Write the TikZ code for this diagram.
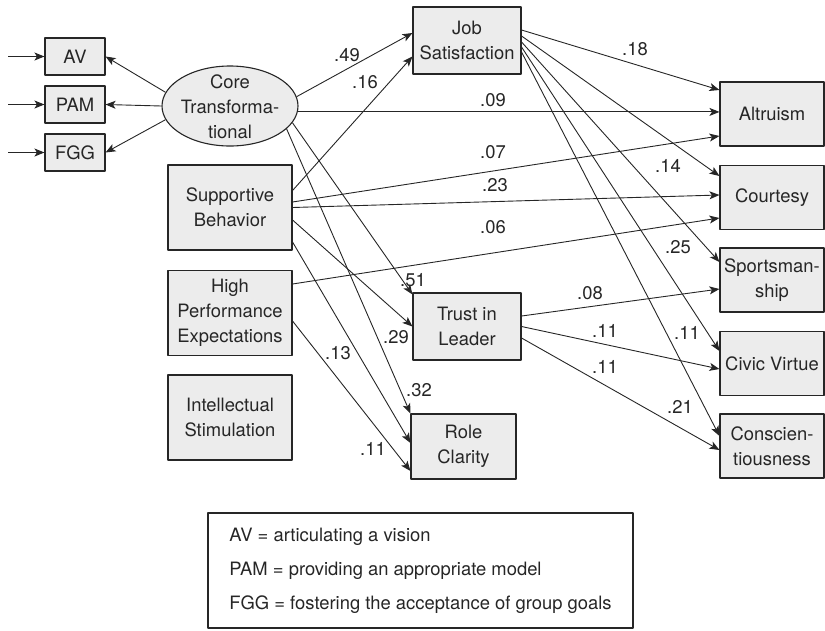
\documentclass[tikz,border=0pt]{standalone}
\usepackage{fontspec}
\setmainfont{TeX Gyre Heros}
\usetikzlibrary{arrows.meta,shapes.geometric}
\definecolor{boxgray}{HTML}{ECECEC}
\definecolor{inkgray}{HTML}{262626}
\tikzset{
  var/.style={draw=inkgray,fill=boxgray,line width=1.1pt,align=center,inner sep=0pt},
  wt/.style={inner sep=0pt},
}
\begin{document}
\begin{tikzpicture}[x=1pt,y=-1pt,line join=bevel,color=inkgray,line width=0.9pt,
    font=\fontsize{18.4}{25}\selectfont,>={Stealth[length=10pt,width=8pt,inset=2.5pt]}]
	\useasboundingbox (0,0) rectangle (825,630) ;
	\foreach \n/\t/\y in {av/AV/56.5,pam/PAM/104.5,fgg/FGG/152.5} {
		\node[var,minimum width=60pt,minimum height=37pt] (\n) at (75,\y) {\t} ;
		\coordinate (\n in) at (8,\y) ;
		\draw[->] (\n in)--(\n) ;
	}
	\node[var,ellipse,minimum width=136pt,minimum height=80pt] (core) at (230,106) {} ;
	\node[align=center] (coretext) at (230,107) {Core\\Transforma-\\tional} ;
	\foreach \n/\t/\y in {sb/Supportive\\Behavior/207.5,hp/High\\Performance\\Expectations/313,is/Intellectual\\Stimulation/417.5}
		\node[var,minimum width=124pt,minimum height=85pt] (\n) at (230,\y) {\t} ;
	\node[var,minimum width=108pt,minimum height=67pt] (job) at (467,40.5) {Job\\Satisfaction} ;
	\node[var,minimum width=108pt,minimum height=67pt] (trust) at (467,326.5) {Trust in\\Leader} ;
	\node[var,minimum width=105pt,minimum height=65pt] (role) at (463.5,446.5) {Role\\Clarity} ;
	\foreach \n/\t/\y in {alt/Altruism/114,court/Courtesy/197.5,sport/Sportsman-\\ship/280,civic/Civic Virtue/363.5,consc/Conscien-\\tiousness/446}
		\node[var,minimum width=104pt,minimum height=64pt] (\n) at (772,\y) {\t} ;
	\draw[->] (core.168)--(av.east) ;
	\draw[->] (core.west)--(pam.east) ;
	\draw[->] (core.-168)--(fgg.east) ;
	\draw[->] (core.8)--([yshift=7.5pt]job.west) ;
	\draw[->] (core.-5)--(core.-5 -| alt.west) ;
	\draw[->] (core.-15)--([yshift=-2pt]trust.north west) ;
	\draw[->] (core.-22)--(role.north west) ;
	\foreach \p/\ps/\q/\qs in {sb/17/job/-16,sb/5.5/alt/-22,sb/0/court/2.5,sb/-12.5/trust/0,sb/-34.5/role/3.5,
		hp/29/court/-20.5,hp/-8/role/-24.5,
		job/10.5/alt/24,job/4.5/court/21.5,job/-1.5/sport/18,job/-6.5/civic/12.5,job/-11.5/consc/10,
		trust/10.5/sport/-9,trust/0/civic/-5.5,trust/-11.5/consc/-4}
		\draw[->] ([yshift=\ps pt]\p.east)--([yshift=\qs pt]\q.west) ;
	\foreach \x/\y/\w [count=\i] in {347/55/.49,365/82/.16,493/100/.09,493/152/.07,495/185/.23,493/227/.06,
		635/49/.18,668/166/.14,678/247/.25,687/333/.11,680/407/.21,
		413/280/.51,396/337/.29,338/353/.13,419/390/.32,373/449/.11,
		590/293/.08,605/331/.11,605/367/.11}
		\node[wt] (w\i) at (\x,\y) {\w} ;
	\node[draw=inkgray,line width=1.1pt,minimum width=425pt,minimum height=115pt,align=left,
		font=\fontsize{18.4}{34}\selectfont] (key) at (420.5,570.5)
		{AV = articulating a vision\\PAM = providing an appropriate model\\FGG = fostering the acceptance of group goals} ;
\end{tikzpicture}
\end{document}
